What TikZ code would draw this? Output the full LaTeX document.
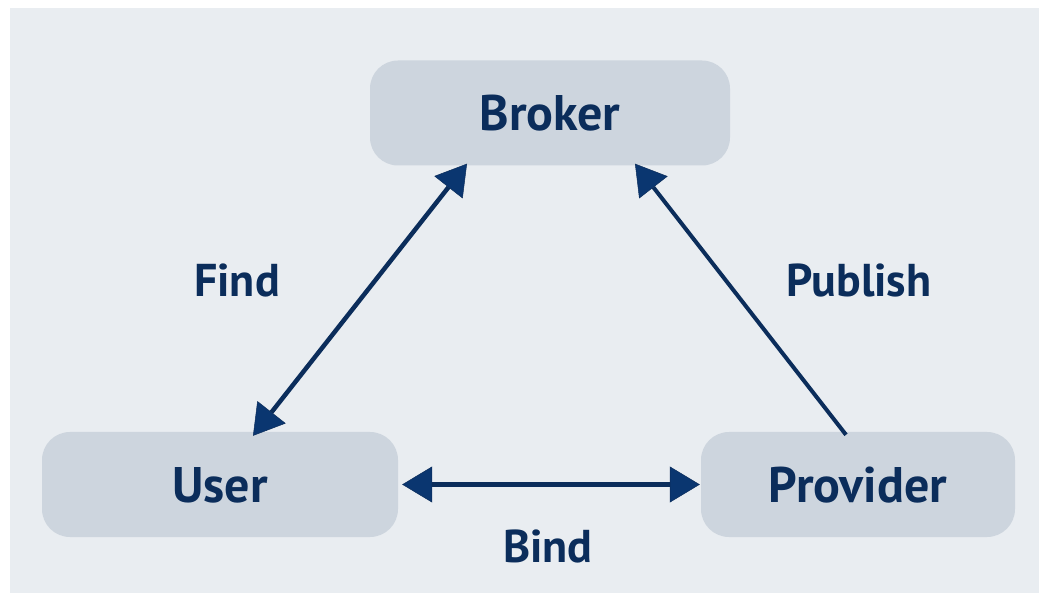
\documentclass[tikz,border=0pt]{standalone}
\usepackage{fontspec}
\setmainfont{PT Sans}
\usetikzlibrary{arrows.meta}
\definecolor{pagebg}{HTML}{E9EDF1}
\definecolor{boxfill}{HTML}{CDD5DE}
\definecolor{navy}{HTML}{0B2D5B}
\definecolor{tipblue}{HTML}{0A3670}
\tikzset{
  role/.style={fill=boxfill, rounded corners=28pt, minimum height=105pt,
    inner sep=0pt, text=navy, font=\fontsize{50}{58}\selectfont\bfseries,
    text height=35pt, text depth=0pt},
  flowlabel/.style={text=navy, font=\fontsize{46}{52}\selectfont\bfseries,
    anchor=base, inner sep=0pt},
  flow/.style={draw=navy, line width=4.5pt,
    arrows={-Triangle[length=30pt, width=36pt, fill=tipblue, line width=0.5pt]}},
  flowboth/.style={flow, arrows={Triangle[length=30pt, width=36pt, fill=tipblue, line width=0.5pt]-Triangle[length=30pt, width=36pt, fill=tipblue, line width=0.5pt]}}
}
\begin{document}
\begin{tikzpicture}[x=1pt, y=-1pt]
  \useasboundingbox (0,0) rectangle (1039,593);
  \fill[pagebg] (10,8) rectangle (1039,593);

  \node[role, minimum width=360pt] (broker)   at (550,113)   {Broker};
  \node[role, minimum width=356pt] (user)     at (220,484.5) {User};
  \node[role, minimum width=314pt] (provider) at (858,484.5) {Provider};

  \draw[flowboth] ([xshift=-83pt, yshift=2pt]broker.south)
                  -- ([xshift=33pt, yshift=-4pt]user.north);
  \draw[flow, line width=4pt] ([xshift=-12pt, yshift=-3pt]provider.north)
                  -- ([xshift=85pt, yshift=2pt]broker.south);
  \draw[flowboth] ([xshift=4pt]user.east) -- ([xshift=-1pt]provider.west);

  \node[flowlabel] (find)    at (237,297) {Find};
  \node[flowlabel] (publish) at (859,297) {Publish};
  \node[flowlabel] (bind)    at (548,562) {Bind};
\end{tikzpicture}
\end{document}
